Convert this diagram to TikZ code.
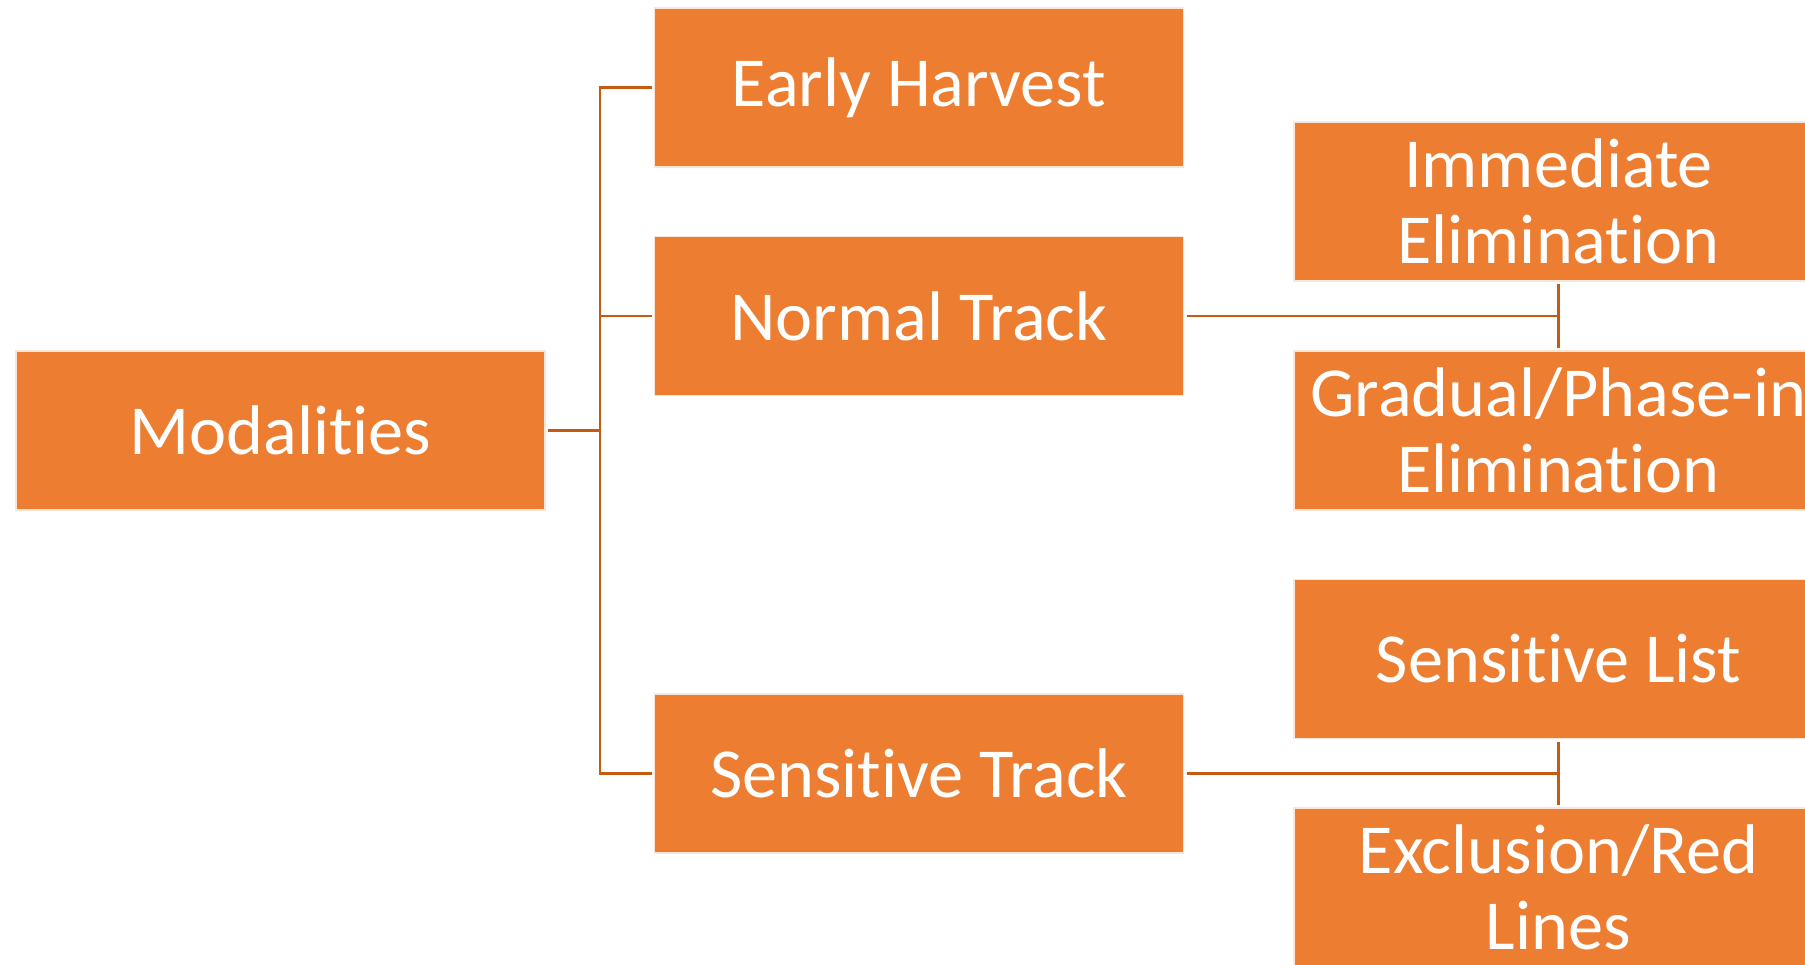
\documentclass[tikz,border=0pt]{standalone}
\usepackage{fontspec}
\setmainfont{Carlito}[Ligatures={NoCommon,NoContextual,NoRare}]
\usepackage{xcolor}
\definecolor{modorange}{HTML}{ED7D31}
\definecolor{linkbrown}{HTML}{C55A11}

\begin{document}
\begin{tikzpicture}[
    tile/.style={draw=white!80!modorange, line width=0.4pt, fill=modorange, text=white,
      minimum width=5.29cm, minimum height=1.59cm, inner sep=0pt, outer sep=0.03cm,
      align=center, font=\fontsize{20}{21.6}\selectfont},
    link/.style={linkbrown, line width=0.8pt}
  ]
  \clip (0,0) rectangle (18.05,9.64);
  % Boxes
  \node[tile] (mod) at (2.805,5.335) {Modalities};
  \node[tile] (early) at (9.19,8.765) {Early Harvest};
  \node[tile] (normal) at (9.19,6.48) {Normal Track};
  \node[tile] (senstrack) at (9.19,1.905) {Sensitive Track};
  \node[tile] (immed) at (15.585,7.625) {Immediate\\Elimination};
  \node[tile] (gradual) at (15.585,5.335) {Gradual/Phase-in\\Elimination};
  \node[tile] (senslist) at (15.585,3.05) {Sensitive List};
  \node[tile] (excl) at (15.585,0.765) {Exclusion/Red\\Lines};
  % Connectors
  \coordinate (trunk) at (6.00,5.335);
  \draw[link] (mod.east) -- (mod.east -| trunk);
  \draw[link] (early.west) -- (early.west -| trunk) -- (senstrack.west -| trunk) -- (senstrack.west);
  \draw[link] (normal.west) -- (normal.west -| trunk);
  \draw[link] (normal.east) -- (normal.east -| immed.south);
  \draw[link] (immed.south) -- (gradual.north);
  \draw[link] (senstrack.east) -- (senstrack.east -| senslist.south);
  \draw[link] (senslist.south) -- (excl.north);
\end{tikzpicture}
\end{document}
